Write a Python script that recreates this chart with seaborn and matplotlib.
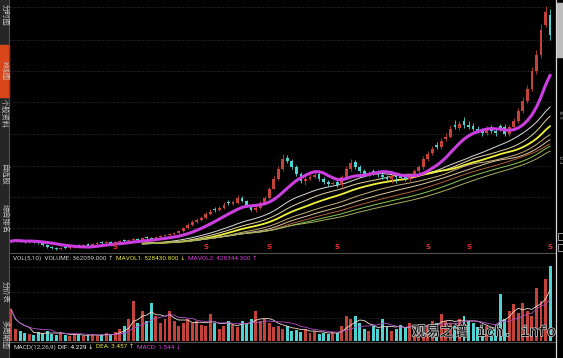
import numpy as np
import pandas as pd
import matplotlib
matplotlib.use("Agg")
import matplotlib.pyplot as plt
import seaborn as sns
from matplotlib.patches import Rectangle
import matplotlib.patheffects as pe

# ---------------- data ----------------
opens = [3.6, 3.7, 3.8, 3.7, 3.6, 3.7, 3.6, 3.5, 3.3, 3.1,
         3.0, 2.9, 3.1, 3.0, 3.1, 3.3, 3.2, 3.4, 3.2, 3.4,
         3.6, 3.5, 3.6, 3.4, 3.6, 3.8, 3.7, 3.8, 3.9, 3.8,
         4.1, 4.0, 3.9, 4.1, 4.2, 4.3, 4.4, 4.5, 4.7, 5.0,
         5.3, 5.6, 5.8, 6.0, 6.4, 6.9, 6.8, 7.0, 7.6, 7.4,
         7.5, 8.0, 7.7, 7.2, 6.8, 7.0, 7.5, 8.0, 9.0, 10.0,
         11.0, 12.1, 11.8, 11.2, 10.5, 9.8, 10.0, 10.2, 10.5, 10.0,
         9.7, 9.5, 9.7, 9.4, 10.2, 11.0, 11.7, 11.2, 10.8, 10.4,
         10.8, 10.6, 10.4, 10.2, 10.0, 10.4, 10.3, 10.3, 10.0, 10.4,
         10.8, 11.2, 12.0, 12.6, 13.4, 13.2, 14.0, 14.2, 15.4, 15.1,
         15.8, 15.4, 15.3, 15.0, 14.9, 14.6, 15.1, 14.8, 15.3, 15.2,
         14.5, 15.2, 15.8, 16.8, 17.8, 19.0, 20.8, 22.5, 25.5, 26.5]
closes = [3.7, 3.8, 3.7, 3.6, 3.7, 3.6, 3.5, 3.3, 3.1, 3.0,
          2.9, 3.0, 3.0, 3.1, 3.2, 3.2, 3.3, 3.2, 3.4, 3.5,
          3.5, 3.6, 3.4, 3.6, 3.7, 3.7, 3.8, 3.9, 3.8, 4.0,
          4.0, 3.9, 4.1, 4.2, 4.3, 4.4, 4.5, 4.7, 5.0, 5.3,
          5.6, 5.8, 6.0, 6.4, 6.6, 6.8, 7.0, 7.3, 7.5, 7.6,
          8.0, 7.7, 7.2, 6.8, 7.0, 7.5, 8.0, 9.0, 10.0, 11.0,
          12.0, 11.8, 11.2, 10.5, 9.8, 10.0, 10.2, 10.4, 10.0, 9.7,
          9.5, 9.6, 9.4, 10.2, 11.0, 11.6, 11.2, 10.8, 10.4, 10.6,
          10.6, 10.4, 10.2, 10.0, 10.3, 10.2, 10.1, 10.0, 10.4, 10.8,
          11.2, 12.0, 12.5, 13.0, 13.2, 13.8, 14.2, 15.0, 15.2, 15.5,
          15.4, 15.2, 15.0, 14.8, 14.6, 15.0, 14.8, 14.6, 15.0, 14.5,
          15.2, 15.8, 16.8, 17.8, 19.0, 20.8, 22.5, 25.0, 26.8, 24.5]
highs = [3.8, 3.9, 3.9, 3.8, 3.8, 3.8, 3.7, 3.6, 3.4, 3.2,
         3.1, 3.1, 3.2, 3.2, 3.3, 3.4, 3.4, 3.5, 3.5, 3.6,
         3.7, 3.7, 3.7, 3.7, 3.8, 3.9, 3.9, 4.0, 4.0, 4.1,
         4.2, 4.1, 4.2, 4.3, 4.4, 4.5, 4.6, 4.8, 5.1, 5.5,
         5.8, 6.0, 6.2, 6.6, 6.9, 7.1, 7.2, 7.6, 7.8, 7.8,
         8.3, 8.2, 7.8, 7.3, 7.2, 7.7, 8.2, 9.2, 10.3, 11.3,
         12.5, 12.4, 12.0, 11.4, 10.7, 10.3, 10.5, 10.7, 10.7, 10.2,
         9.9, 9.8, 9.9, 10.4, 11.3, 12.0, 11.9, 11.4, 11.0, 10.8,
         11.0, 10.9, 10.6, 10.4, 10.5, 10.6, 10.5, 10.5, 10.6, 11.0,
         11.4, 12.3, 12.8, 13.3, 13.7, 14.1, 14.6, 15.4, 15.9, 15.8,
         16.2, 15.8, 15.6, 15.3, 15.1, 15.3, 15.4, 15.0, 15.5, 15.5,
         15.4, 16.1, 17.1, 18.2, 19.4, 21.2, 23.0, 25.6, 27.4, 27.1]
lows = [3.5, 3.6, 3.6, 3.5, 3.5, 3.5, 3.4, 3.2, 3.0, 2.9,
        2.8, 2.8, 2.9, 2.9, 3.0, 3.1, 3.1, 3.1, 3.1, 3.3,
        3.4, 3.4, 3.3, 3.3, 3.5, 3.6, 3.6, 3.7, 3.7, 3.7,
        3.9, 3.8, 3.8, 4.0, 4.1, 4.2, 4.3, 4.4, 4.6, 4.9,
        5.2, 5.5, 5.7, 5.9, 6.3, 6.6, 6.7, 6.9, 7.3, 7.3,
        7.4, 7.6, 7.1, 6.7, 6.6, 6.9, 7.4, 7.9, 8.9, 9.9,
        10.8, 11.6, 11.0, 10.3, 9.6, 9.4, 9.9, 10.1, 9.8, 9.5,
        9.3, 9.3, 9.2, 9.2, 10.0, 10.8, 11.0, 10.6, 10.2, 10.2,
        10.4, 10.2, 10.0, 9.8, 9.6, 9.6, 9.9, 9.8, 9.8, 10.2,
        10.6, 11.0, 11.8, 12.4, 13.0, 13.0, 13.8, 14.1, 15.0, 14.9,
        15.1, 15.0, 14.8, 14.6, 14.3, 14.4, 14.6, 14.3, 14.8, 14.3,
        14.3, 15.0, 15.6, 16.6, 17.6, 18.8, 20.5, 22.2, 25.3, 24.0]
# volume in units of 10,000 shares
volume = [32, 12, 10, 8, 7, 6, 9, 8, 10, 7,
          6, 9, 6, 5, 7, 6, 5, 6, 7, 5,
          6, 8, 6, 9, 12, 15, 22, 40, 18, 30,
          20, 38, 25, 18, 22, 30, 20, 15, 18, 22,
          18, 20, 16, 15, 27, 18, 12, 15, 20, 16,
          14, 20, 18, 22, 30, 20, 22, 18, 14, 15,
          12, 15, 10, 11, 9, 12, 8, 10, 7, 8,
          7, 9, 8, 15, 25, 22, 25, 18, 12, 10,
          15, 12, 22, 14, 10, 12, 16, 14, 18, 15,
          12, 14, 16, 20, 18, 27, 20, 18, 15, 22,
          25, 20, 18, 14, 12, 15, 10, 12, 47, 22,
          30, 37, 28, 38, 30, 25, 53, 40, 62, 75]
signal_idx = [23, 43, 57, 72, 92, 101, 119]
ma_fast = 10
ma_slow = [24, 30, 36, 44, 50, 56, 62, 68]
ma_slow_start = 29
ma_slow_colors = ["#dcdcdc", "#e6d7a8", "#f2f23c", "#c9b07a", "#e0c8a0",
                  "#b0603a", "#8cc850", "#a8b060"]
vol_header = [("VOL(5,10)  VOLUME: 362059.000 \u2191", "#cfcfcf"),
              ("MAVOL1: 528430.800 \u2193", "#e6e63c"),
              ("MAVOL2: 428344.300 \u2191", "#d040d0")]
macd_header = [("MACD(12,26,9)", "#cfcfcf"), ("DIF: 4.229 \u2193", "#ffffff"),
               ("DEA: 3.457 \u2191", "#e6e63c"), ("MACD: 1.544 \u2193", "#d040d0")]
side_labels = [("分时图", 15), ("K线图", 71), ("个股资料", 114), ("自选股", 175),
               ("综合排名", 218), ("分价表", 292), ("多周期图", 334)]

# ---------------- frame ----------------
df = pd.DataFrame({"i": np.arange(len(closes)), "open": opens, "close": closes,
                   "high": highs, "low": lows, "vol": volume})
df["ma_fast"] = df["close"].rolling(ma_fast, min_periods=1).mean()
for w in ma_slow:
    s = df["close"].rolling(w, min_periods=1).mean()
    s[df["i"] < ma_slow_start] = np.nan
    df[f"ma{w}"] = s
df["mavol1"] = df["vol"].rolling(5, min_periods=1).mean()
df["mavol2"] = df["vol"].rolling(10, min_periods=1).mean()
up = df["close"] >= df["open"]
RED, CYAN = "#c4423a", "#4fd2d2"
colors = np.where(up, RED, CYAN)

sns.set_theme(style="dark", rc={"axes.facecolor": "black", "figure.facecolor": "black"})
plt.rcParams["font.family"] = ["DejaVu Sans", "Noto Sans CJK SC"]

W, H = 563, 358
fig = plt.figure(figsize=(W / 100, H / 100), dpi=100, facecolor="black")

def fx(px):
    return px / W

def fy(py):
    return 1 - py / H

ax = fig.add_axes([fx(10), fy(252), fx(553) - fx(10), 252 / H])
axv = fig.add_axes([fx(10), fy(341), fx(553) - fx(10), 89 / H])
XL = ((10 - 11) / 4.53, (553 - 11) / 4.53)
for a in (ax, axv):
    a.set_facecolor("black")
    for s in a.spines.values():
        s.set_visible(False)

# grid lines
for py in [7, 40, 71, 102, 134, 166, 197, 228]:
    ax.axhline(28.0 - py * (25.4 / 252), color="#3c3c3c", lw=0.6, ls=(0, (1, 2)), zorder=0)
for h in [23, 49, 74]:
    axv.axhline(h, color="#3c3c3c", lw=0.6, ls=(0, (1, 2)), zorder=0)

# slow moving averages
for w, c in zip(ma_slow, ma_slow_colors):
    d = df.dropna(subset=[f"ma{w}"])
    sns.lineplot(data=d, x="i", y=f"ma{w}", ax=ax, color=c,
                 linewidth=1.3 if w == 36 else 0.7, estimator=None, legend=False, zorder=2)

# candles
ax.vlines(df["i"], df["low"], df["high"], colors=colors, lw=0.6, zorder=3)
body = np.maximum((df["close"] - df["open"]).abs(), 0.07)
ax.bar(df["i"], body, bottom=np.minimum(df["open"], df["close"]), width=0.62,
       color=colors, linewidth=0, zorder=3)

# fast MA (thick magenta)
sns.lineplot(data=df, x="i", y="ma_fast", ax=ax, color="#cc3ee0", linewidth=2.2,
             estimator=None, legend=False, zorder=4)

# signal markers
for i in signal_idx:
    ax.text(i, 3.15, "S", color="#e0302a", fontsize=5, ha="center", va="center",
            fontweight="bold", zorder=5)

# volume
axv.bar(df["i"], df["vol"], width=0.65, color=colors, linewidth=0, zorder=2)
sns.lineplot(data=df, x="i", y="mavol1", ax=axv, color="#f0dcd0", linewidth=0.6,
             estimator=None, legend=False, zorder=3)
sns.lineplot(data=df, x="i", y="mavol2", ax=axv, color="#b050c8", linewidth=0.6,
             estimator=None, legend=False, zorder=3)

for a in (ax, axv):
    a.set_xlabel(""); a.set_ylabel("")
    a.set_xticks([]); a.set_yticks([])
    a.set_xlim(*XL)
ax.set_ylim(2.6, 28.0)
axv.set_ylim(0, 89)

# panel separators / frame
line_kw = dict(transform=fig.transFigure, color="#505050", lw=0.8)
fig.add_artist(plt.Line2D([fx(9), fx(555)], [fy(252.5), fy(252.5)], **line_kw))
fig.add_artist(plt.Line2D([fx(9), fx(555)], [fy(341.5), fy(341.5)], **line_kw))
fig.add_artist(plt.Line2D([fx(9), fx(9)], [0, 1], **line_kw))
fig.add_artist(plt.Line2D([fx(555.5), fx(555.5)], [0, 1], transform=fig.transFigure,
                          color="#d8d8d8", lw=0.9))

# left navigation strip
fig.add_artist(Rectangle((0, 0), fx(8.5), 1, transform=fig.transFigure,
                         color="#262626", zorder=0))
fig.add_artist(Rectangle((0, fy(97)), fx(8.5), fy(45) - fy(97), transform=fig.transFigure,
                         color="#d8461a", zorder=1))
for t, y in side_labels:
    fig.text(fx(4.3), fy(y), t, rotation=-90, ha="center", va="center", fontsize=5.2,
             color="#c8c8c8", family=["Noto Sans CJK SC", "DejaVu Sans"])

# right strip
fig.add_artist(Rectangle((fx(557), fy(57)), fx(6), fy(3) - fy(57), transform=fig.transFigure,
                         color="#bdbdbd", zorder=1))
for yy in (233, 244):
    fig.add_artist(Rectangle((fx(557.5), fy(yy + 7)), fx(5), fy(yy) - fy(yy + 7),
                             transform=fig.transFigure, facecolor="black",
                             edgecolor="#cfcfcf", lw=0.5, zorder=1))
for yy, t in ((115, "16.9"), (160, "12.4")):
    fig.text(fx(560), fy(yy), t, rotation=-90, ha="center", va="center", fontsize=3.2,
             color="#9a9a9a")

# headers laid out left to right
renderer = fig.canvas.get_renderer()
hfam = ["Roboto", "DejaVu Sans"]

def header(parts, x0, ypx, gap=2.5):
    x = x0
    for t, c in parts:
        txt = fig.text(fx(x), fy(ypx), t, color=c, fontsize=4.6, ha="left", va="center",
                       family=hfam)
        bb = txt.get_window_extent(renderer)
        x += bb.width + gap

header(vol_header, 12.7, 258.5)
header(macd_header, 13, 347)

# watermark
wm_fx = [pe.withStroke(linewidth=1.2, foreground="#bcbcbc")]
fig.text(fx(412), fy(332), "观易之谱", color="black", fontsize=10, ha="left", va="center",
         family=["Noto Sans CJK SC", "DejaVu Sans"], path_effects=wm_fx)
fig.text(fx(477), fy(332), "ich. info", color="black", fontsize=10.5, ha="left", va="center",
         family=["Liberation Mono", "DejaVu Sans Mono"], path_effects=wm_fx)

fig.savefig("out.png", dpi=100, facecolor="black")
